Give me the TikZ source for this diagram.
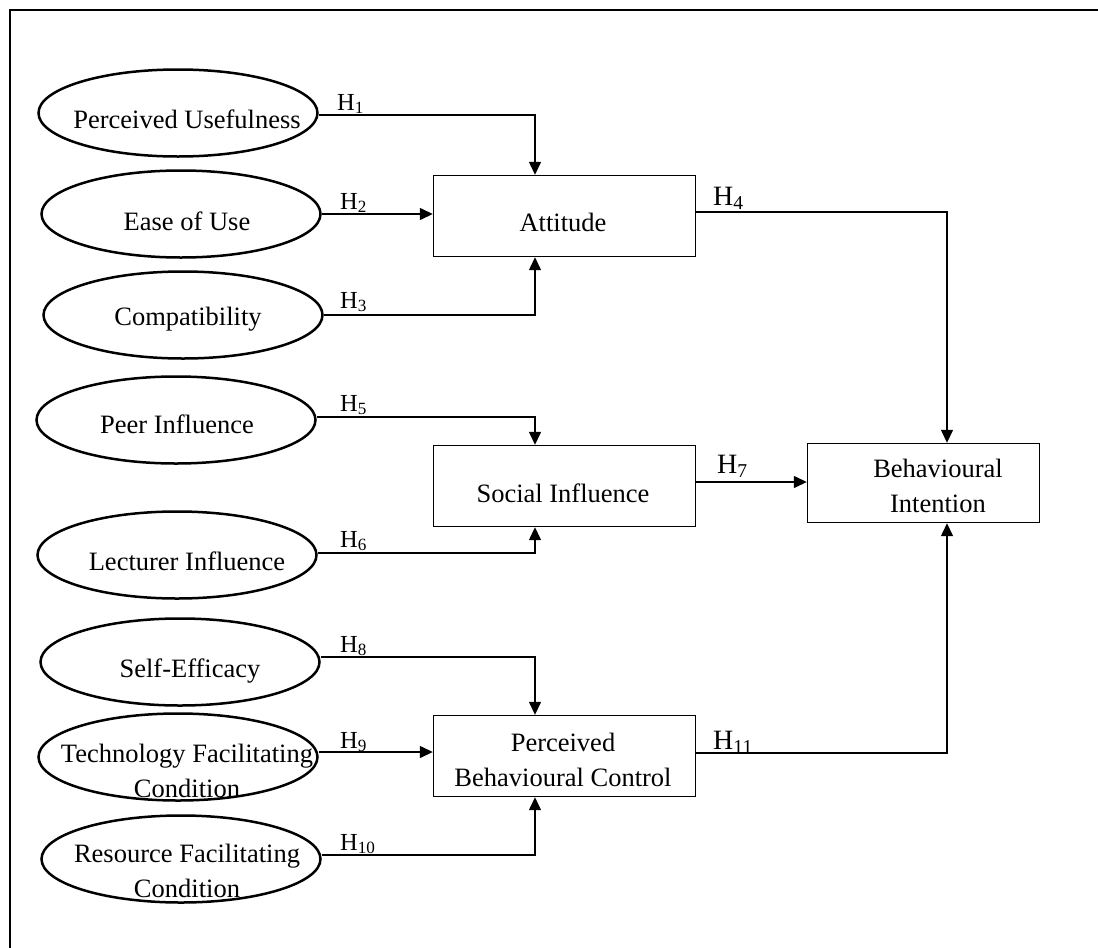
\documentclass[tikz,border=0pt]{standalone}
\usepackage{fontspec}
\setmainfont{Liberation Serif}
\usetikzlibrary{arrows.meta,shapes.geometric,calc}
\begin{document}
\begin{tikzpicture}[x=1pt,y=-1pt,
  construct/.style={draw,ellipse,line width=2.5pt,minimum width=279pt,minimum height=87pt,inner sep=0pt},
  factor/.style={draw,line width=1.4pt,minimum width=262pt,minimum height=81pt,inner sep=0pt},
  ctext/.style={font=\fontsize{26.5}{35}\selectfont,align=center,inner sep=0pt,anchor=base},
  link/.style={line width=1.4pt,-{Triangle[length=13pt,width=12pt]}},
  hyp/.style={font=\fontsize{24.5}{24}\selectfont,anchor=base west,inner sep=0pt},
  hypr/.style={font=\fontsize{28}{28}\selectfont,anchor=base west,inner sep=0pt},
]
\useasboundingbox (0,0) rectangle (1098,948);
% outer frame (left and top edges)
\draw[line width=2.6pt] (10,948) -- (10,10) -- (1098,10);

% exogenous constructs
\node[construct] (pu)  at (178,113) {};
\node[construct] (eou) at (181,214) {};
\node[construct] (cmp) at (183,315) {};
\node[construct] (pi)  at (176,420) {};
\node[construct] (li)  at (177,555) {};
\node[construct] (se)  at (180,662) {};
\node[construct] (tfc) at (178,757) {};
\node[construct] (rfc) at (181,859) {};

\node[ctext] (put)  at (187,128) {Perceived Usefulness};
\node[ctext] (eout) at (187,230) {Ease of Use};
\node[ctext] (cmpt) at (188,325) {Compatibility};
\node[ctext] (pit)  at (177,433) {Peer Influence};
\node[ctext] (lit)  at (187,570) {Lecturer Influence};
\node[ctext] (set)  at (190,677) {Self-Efficacy};
\node[ctext,anchor=north] (tfct) at (187,744) {Technology Facilitating\\Condition};
\node[ctext,anchor=north] (rfct) at (187,844) {Resource Facilitating\\Condition};

% mediating and outcome constructs
\node[factor] (att) at (564.5,216) {};
\node[factor] (si)  at (564.5,486) {};
\node[factor] (pbc) at (564.5,756) {};
\node[factor,minimum width=232pt,minimum height=79pt] (bi) at (923.5,483) {};

\node[ctext] (attt) at (563,231) {Attitude};
\node[ctext] (sit)  at (563,502) {Social Influence};
\node[ctext,anchor=north] (pbct) at (563,733) {Perceived\\Behavioural Control};
\node[ctext,anchor=north] (bit)  at (938,459) {Behavioural\\Intention};

% merge columns of the connectors
\coordinate (ca) at (535,0);
\coordinate (cb) at (947,0);

% hypotheses into Attitude
\draw[link] ([yshift=-2pt]pu.east) -| (ca |- att.north);
\draw[link] (eou.east) coordinate (e2) -- (e2 -| att.west);
\draw[link] (cmp.east) -| (ca |- att.south);
% hypotheses into Social Influence
\draw[link] ([yshift=3pt]pi.east) -| (ca |- si.north);
\draw[link] ([yshift=2pt]li.east) -| (ca |- si.south);
% hypotheses into Perceived Behavioural Control
\draw[link] ([yshift=5pt]se.east) -| (ca |- pbc.north);
\draw[link] ([yshift=5pt]tfc.east) coordinate (e9) -- (e9 -| pbc.west);
\draw[link] ([yshift=4pt]rfc.east) -| (ca |- pbc.south);
% hypotheses into Behavioural Intention
\draw[link] ([yshift=4pt]att.east) -| (cb |- bi.north);
\draw[link] ([yshift=4pt]si.east) coordinate (e7) -- (e7 -| bi.west);
\draw[link] ([yshift=3pt]pbc.east) -| (cb |- bi.south);

% hypothesis labels
\node[hyp] (h1)  at (337,110) {H\textsubscript{1}};
\node[hyp] (h2)  at (340,209) {H\textsubscript{2}};
\node[hyp] (h3)  at (340,308) {H\textsubscript{3}};
\node[hyp] (h5)  at (340,411) {H\textsubscript{5}};
\node[hyp] (h6)  at (340,547) {H\textsubscript{6}};
\node[hyp] (h8)  at (340,652) {H\textsubscript{8}};
\node[hyp] (h9)  at (340,748) {H\textsubscript{9}};
\node[hyp] (h10) at (340,850) {H\textsubscript{10}};
\node[hypr] (h4)  at (713,205) {H\textsubscript{4}};
\node[hypr] (h7)  at (717,473) {H\textsubscript{7}};
\node[hypr] (h11) at (713,749) {H\textsubscript{11}};
\end{tikzpicture}
\end{document}
